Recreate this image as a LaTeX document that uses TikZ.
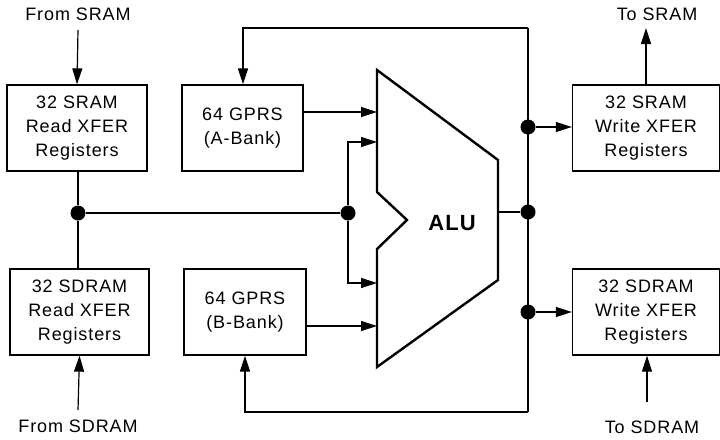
\documentclass[tikz,border=0pt]{standalone}
\usepackage{fontspec}
\setmainfont{Liberation Sans}[LetterSpace=5]
\usetikzlibrary{arrows.meta,calc}
\begin{document}
\begin{tikzpicture}[x=1pt,y=-1pt,
  box/.style={draw,line width=1.3pt,minimum width=#1,minimum height=86pt,inner sep=0pt,align=center,
    font=\fontsize{18}{24}\selectfont},
  lbl/.style={font=\fontsize{18}{20}\selectfont,inner sep=0pt},
  wire/.style={line width=1.2pt},
  arr/.style={wire,-{Triangle[length=16pt,width=10pt]}},
  dot/.style={circle,fill,inner sep=0pt,minimum size=15pt}]
\useasboundingbox (0,0) rectangle (720,439);
% boxes
\node[box=140pt] (srr) at (77,128) {32 SRAM\\Read XFER\\Registers};
\node[box=121pt] (gpa) at (242.5,128) {64 GPRS\\(A-Bank)};
\node[box=139pt] (sdr) at (79.5,312) {32 SDRAM\\Read XFER\\Registers};
\node[box=122pt] (gpb) at (245,312) {64 GPRS\\(B-Bank)};
\node[box=147pt] (sww) at (646,128) {32 SRAM\\Write XFER\\Registers};
\node[box=147pt] (sdw) at (646,312) {32 SDRAM\\Write XFER\\Registers};
% labels
\node[lbl] (fsram) at (78,14) {From SRAM};
\node[lbl] (tsram) at (657,14) {To SRAM};
\node[lbl] (fsdram) at (78,426) {From SDRAM};
\node[lbl] (tsdram) at (652,427) {To SDRAM};
% ALU
\coordinate (a1) at (377,70);
\coordinate (a2) at (498,160);
\coordinate (a3) at (498,280);
\coordinate (a4) at (377,367);
\coordinate (a5) at (377,249);
\coordinate (a6) at (407,220);
\coordinate (a7) at (377,192);
\draw[line width=2.4pt,line join=miter] (a1) -- (a2) -- (a3) -- (a4) -- (a5) -- (a6) -- (a7) -- cycle;
\node[font=\bfseries\fontsize{22}{24}\selectfont] (alu) at (452,223) {ALU};
% ALU inputs
\coordinate (inA) at (377,112);
\coordinate (inL1) at (377,142);
\coordinate (inL2) at (377,283);
\coordinate (inB) at (377,326);
\coordinate (out) at (498,212);
% dots
\node[dot] (L1) at (78,213) {};
\node[dot] (L2) at (348,213) {};
\node[dot] (R1) at (528,127) {};
\node[dot] (R2) at (528,212) {};
\node[dot] (R3) at (528,312) {};
% bus corners
\coordinate (tR) at (528,28);
\coordinate (tL) at (243,28);
\coordinate (bR) at (528,412);
\coordinate (bL) at (245,412);
% top / bottom external
\coordinate (fs) at (78,30);
\coordinate (fsd) at (78,410);
\coordinate (ts) at (646,28);
\coordinate (tsd) at (647,402);
\draw[arr] (fs) -- (srr.north);
\draw[arr] (fsd) -- (sdr.south);
\draw[arr] (sww.north -| ts) -- (ts);
\draw[arr] (tsd) -- (sdw.south -| tsd);
% left bus
\draw[wire] (srr.south -| L1) -- (L1);
\draw[wire] (sdr.north -| L1) -- (L1);
\draw[wire] (L1) -- (L2);
\draw[arr] (L2) -- (L2 |- inL1) -- (inL1);
\draw[arr] (L2) -- (L2 |- inL2) -- (inL2);
\draw[arr] (gpa.east |- inA) -- (inA);
\draw[arr] (gpb.east |- inB) -- (inB);
% right bus
\draw[wire] (out) -- (R2);
\draw[wire] (tR) -- (bR);
\draw[arr] (R1) -- (sww.west |- R1);
\draw[arr] (R3) -- (sdw.west |- R3);
\draw[arr,line width=1.6pt] (tR) -- (tL) -- (gpa.north -| tL);
\draw[arr,line width=1.6pt] (bR) -- (bL) -- (gpb.south -| bL);
\end{tikzpicture}
\end{document}
